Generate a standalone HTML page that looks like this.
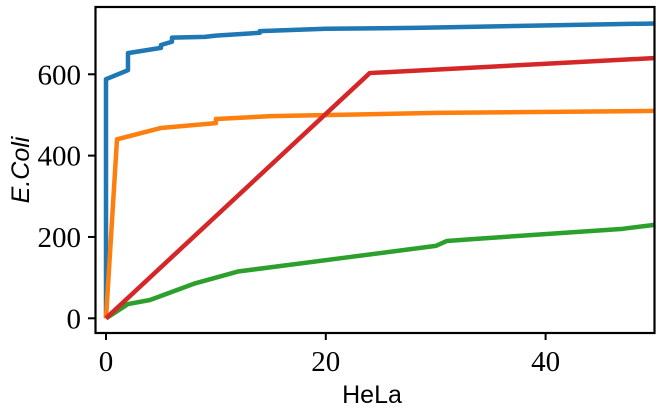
<!DOCTYPE html>
<html><head><meta charset="utf-8"><style>
html,body{margin:0;padding:0;background:#fff;}
svg text{font-family:"Liberation Serif",serif;}
</style></head><body>
<svg id="chart" width="660" height="413" viewBox="0 0 660 413" xmlns="http://www.w3.org/2000/svg">
<g id="plot"></g>
<rect x="95.5" y="7" width="559" height="326" fill="none" stroke="#000" stroke-width="2.2"/>
<g id="xt"></g>
<g id="yt"></g>
<text x="372" y="403" text-anchor="middle" font-size="25" style="font-family:'Liberation Sans',sans-serif">HeLa</text>
<text transform="translate(29,170) rotate(-90)" text-anchor="middle" font-size="25" font-style="italic" style="font-family:'Liberation Sans',sans-serif">E.Coli</text>
</svg>
<script>
const xTicks=[0,20,40];
const yTicks=[0,200,400,600];
const blueX=[0,0,2,2,5,5,6,6,9,10,14,14,20,28,30,50];
const blueY=[0,588,610,652,665,672,680,690,692,695,702,706,712,714,715,725];
const orangeX=[0,1,5,10,10,15,30,50];
const orangeY=[0,440,468,480,490,497,505,510];
const greenX=[0,2,4,8,12,22,30,31,34,47,50];
const greenY=[0,35,45,85,115,150,178,190,196,220,230];
const redX=[0,24,50];
const redY=[0,603,640];
const X=v=>106+v*10.99;
const Y=v=>318.3-v*0.4067;
const NS="http://www.w3.org/2000/svg";
const plot=document.getElementById('plot');
function line(xs,ys,color,name){
  const p=document.createElementNS(NS,'polyline');
  p.setAttribute('points',xs.map((x,i)=>X(x)+','+Y(ys[i])).join(' '));
  p.setAttribute('fill','none');p.setAttribute('stroke',color);p.setAttribute('stroke-width','4.5');
  p.setAttribute('stroke-linejoin','round');
  
  
  plot.appendChild(p);
}
line(blueX,blueY,'#1f77b4','series-blue');
line(orangeX,orangeY,'#ff7f0e','series-orange');
line(greenX,greenY,'#2ca02c','series-green');
line(redX,redY,'#d62728','series-red');
const xt=document.getElementById('xt');
xTicks.forEach(t=>{
  const l=document.createElementNS(NS,'line');
  l.setAttribute('x1',X(t));l.setAttribute('x2',X(t));l.setAttribute('y1',333);l.setAttribute('y2',340);
  l.setAttribute('stroke','#000');l.setAttribute('stroke-width','2');
  
  
  xt.appendChild(l);
  const tx=document.createElementNS(NS,'text');
  tx.setAttribute('x',X(t));tx.setAttribute('y',371);tx.setAttribute('text-anchor','middle');tx.setAttribute('font-size','29');
  tx.textContent=t;
  
  
  xt.appendChild(tx);
});
const yt=document.getElementById('yt');
yTicks.forEach(t=>{
  const l=document.createElementNS(NS,'line');
  l.setAttribute('x1',88);l.setAttribute('x2',95.5);l.setAttribute('y1',Y(t));l.setAttribute('y2',Y(t));
  l.setAttribute('stroke','#000');l.setAttribute('stroke-width','2');
  
  
  yt.appendChild(l);
  const tx=document.createElementNS(NS,'text');
  tx.setAttribute('x',81);tx.setAttribute('y',Y(t)+10);tx.setAttribute('text-anchor','end');tx.setAttribute('font-size','29');
  tx.textContent=t;
  
  
  yt.appendChild(tx);
});
</script>
</body></html>
